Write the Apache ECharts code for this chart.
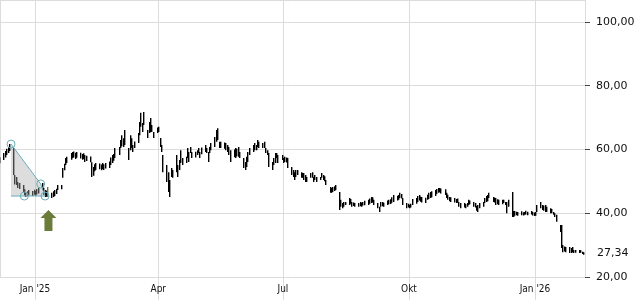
<!DOCTYPE html>
<html><head><meta charset="utf-8">
<script src="https://cdn.jsdelivr.net/npm/echarts@6/dist/echarts.min.js"></script>
<style>html,body{margin:0;padding:0;background:#fff}#c{width:640px;height:300px}</style>
</head><body><div id="c"></div>
<script>
// ---- data (trading days starting 2024-12-06, Mon-Fri) ----
const firstDay = '2024-12-06';
const lows = [
  55.7,
  56.7,57.5,58.3,58.9,59.5,  52.0,49.0,48.9,47.9,47.6,  46.7,45.6,45.1,45.4,45.6,  45.4,45.8,45.5,45.9,46.2,
  47.3,45.8,45.1,45.2,45.1,  44.8,45.1,45.4,46.0,47.3,  47.5,51.1,53.5,55.1,55.8,  56.8,57.3,57.5,57.0,57.4,
  57.2,56.8,57.0,56.1,56.4,  56.0,51.4,51.8,53.2,53.6,  53.8,53.5,53.9,53.6,54.0,  54.2,55.1,55.8,56.5,57.3,
  58.3,60.5,61.0,60.8,61.4,  56.7,59.8,60.5,59.2,60.5,  62.0,64.5,67.1,65.5,67.7,  63.6,65.2,65.5,65.5,63.6,
  65.2,65.5,60.8,59.2,52.9,  49.8,46.7,45.1,51.4,51.1,  52.9,51.4,53.6,55.8,55.1,  55.8,57.3,56.1,58.9,57.3,
  57.5,58.3,58.9,57.3,58.5,  59.2,58.9,56.1,58.9,59.8,  60.8,62.4,63.0,60.5,60.5,  60.2,59.8,59.2,58.3,56.1,
  57.6,57.3,57.8,57.7,57.3,  54.2,53.6,54.5,56.1,58.3,  59.2,59.8,59.8,60.8,60.5,  60.5,60.5,58.9,58.3,54.5,
  53.6,55.1,55.8,57.3,55.8,  56.7,55.8,56.1,55.9,54.2,  52.0,51.4,50.4,51.4,52.0,  51.1,51.1,50.4,49.8,49.8,
  51.1,51.1,49.8,50.4,49.8,  50.4,51.1,50.4,50.0,48.9,  46.4,46.4,46.7,47.0,47.3,  41.0,42.0,41.6,42.0,42.6,
  42.6,43.0,42.0,42.3,42.0,  42.0,42.2,42.0,42.4,42.5,  42.6,43.0,43.2,43.4,42.6,  41.6,40.4,42.0,42.2,42.0,
  42.6,42.8,42.9,43.3,43.5,  44.0,44.2,44.8,44.6,42.6,  41.6,41.8,41.6,41.8,42.6,  43.0,43.5,44.0,43.6,43.4,
  43.2,44.2,44.5,44.8,45.0,  45.4,46.0,46.4,46.6,46.2,  45.7,44.8,44.2,43.8,43.5,  43.4,43.2,43.3,42.0,41.6,
  41.8,41.6,42.0,42.6,42.8,  42.0,41.8,40.8,40.4,41.6,  42.0,43.2,43.5,43.8,44.8,  43.5,43.4,42.6,42.8,42.6,
  42.8,43.2,42.6,40.0,42.0,  38.8,38.8,39.2,39.4,39.2,  39.4,39.3,39.5,39.6,39.4,  39.6,39.3,39.1,39.2,40.4,
  41.6,41.0,40.8,40.4,40.4,  40.0,40.0,39.5,38.8,37.3,  34.1,29.1,27.8,28.0,27.8,  27.5,27.5,27.8,27.5,27.6,
  27.5,27.6,27.2,27.0
];
const highs = [
  57.6,
  58.9,59.5,60.2,60.8,61.7,  60.5,52.0,51.4,49.8,49.5,  48.9,47.5,46.7,46.9,47.3,  47.0,47.4,47.0,47.6,48.0,
  49.5,48.0,47.3,47.0,48.2,  46.4,46.9,47.3,47.7,48.9,  48.9,54.2,55.5,57.3,57.7,  58.9,59.2,59.4,59.0,59.2,
  59.0,58.6,58.8,58.3,58.0,  57.8,56.0,54.5,55.4,55.8,  55.6,55.3,55.8,55.4,55.8,  56.2,57.5,58.3,58.6,60.5,
  60.8,63.0,64.5,63.5,66.1,  60.5,64.5,63.5,61.4,62.5,  65.2,68.6,71.5,68.3,71.8,  66.1,68.6,69.9,67.7,65.5,
  66.9,67.1,63.6,61.4,58.3,  55.1,52.9,50.4,54.2,53.6,  58.3,55.1,56.7,59.8,57.3,  57.7,60.5,59.2,60.8,59.2,
  59.3,59.8,60.5,59.2,60.6,  61.4,60.5,59.2,60.8,62.0,  63.9,66.1,66.7,62.4,62.4,  62.2,62.0,61.4,60.8,59.8,
  60.0,60.5,60.2,60.8,59.2,  57.3,56.1,57.7,59.2,60.5,  61.4,62.0,61.4,63.0,62.4,  62.0,62.4,60.5,59.8,58.9,
  56.1,57.3,58.9,58.9,58.3,  58.3,57.3,57.7,57.5,57.3,  54.5,53.6,52.9,53.6,53.6,  52.9,52.6,52.6,52.0,51.4,
  52.6,52.9,51.4,52.0,51.4,  51.4,52.6,52.0,51.6,50.4,  48.2,47.9,48.2,48.5,48.9,  46.7,44.2,43.2,43.5,43.5,
  44.8,44.5,43.5,43.4,43.2,  43.2,43.5,43.3,43.5,43.9,  44.2,44.6,45.1,45.0,44.2,  43.2,42.0,43.5,43.5,43.3,
  44.0,44.2,44.4,45.0,45.7,  45.5,45.7,46.4,46.0,44.8,  43.2,43.0,42.6,43.0,44.5,  44.8,45.4,45.7,45.2,45.1,
  44.9,45.8,46.4,46.7,46.9,  47.3,47.6,47.9,47.9,47.8,  47.5,46.4,45.8,45.1,45.0,  44.8,44.5,44.6,43.5,43.2,
  43.2,42.9,43.2,44.2,44.0,  43.5,43.2,42.3,42.6,43.2,  43.5,44.8,45.4,45.7,46.4,  45.1,44.9,44.8,44.4,44.2,
  44.2,44.2,43.5,43.5,44.2,  46.7,40.7,40.7,40.5,40.4,  40.6,40.3,40.4,40.8,40.5,  40.7,40.4,40.2,40.4,42.6,
  43.5,42.6,42.4,42.6,42.0,  41.6,41.3,40.4,40.0,39.5,  36.3,36.3,30.0,29.6,29.4,  29.4,29.1,29.4,28.5,28.5,
  28.5,28.4,27.9,27.8
];
const signalDate = '2025-01-10';
const lastPrice = 27.34;
const yTickValues = [20, 40, 60, 80, 100];
const monthNames = ['Jan','Feb','Mär','Apr','Mai','Jun','Jul','Aug','Sep','Okt','Nov','Dez'];
// drawing tool annotation (top, middle, end) and the extra base marker
const drawDates = ['2024-12-14 12:00', '2025-01-05 04:00', '2025-01-08 08:00'];
const drawValues = [61.7, 49.2, 45.4];
const baseMarkDate = '2024-12-24 05:00';
// signal arrow
const arrowDate = '2025-01-10 20:00';
const arrowValue = 37.7;

// ---- build ----
function parseD(s) {
  const [dp, tp] = s.split(' ');
  const [y, m, d] = dp.split('-').map(Number);
  let h = 0, mi = 0;
  if (tp) { [h, mi] = tp.split(':').map(Number); }
  return new Date(y, m - 1, d, h, mi).getTime();
}
const dates = [];
{
  let d = new Date(parseD(firstDay));
  while (dates.length < lows.length) {
    const w = d.getDay();
    if (w !== 0 && w !== 6) dates.push(d.getTime());
    d = new Date(d.getFullYear(), d.getMonth(), d.getDate() + 1);
  }
}
const signalT = parseD(signalDate);
const barData = dates.map((t, i) => [t, lows[i], highs[i]]);

const FONT = 'DejaVu Sans';
const DAY = 86400000;
const xMin = new Date(2024, 11, 6, 11).getTime();
const xMax = new Date(2026, 1, 6, 12).getTime();

const chart = echarts.init(document.getElementById('c'), null, {renderer: 'canvas'});
chart.setOption({
  animation: false,
  backgroundColor: '#fff',
  grid: {left: 0, right: 55, top: 0, bottom: 23, containLabel: false, outerBoundsMode: 'none'},
  xAxis: {
    type: 'time', min: xMin, max: xMax,
    minInterval: 93 * DAY, maxInterval: 93 * DAY,
    axisLine: {show: false},
    axisTick: {show: true, length: 23, lineStyle: {color: '#dcdcdc'}},
    splitLine: {show: true, lineStyle: {color: '#dcdcdc', width: 1}},
    axisLabel: {
      margin: 7, fontSize: 10, color: '#111', fontFamily: 'DejaVu Sans Condensed, DejaVu Sans',
      formatter: function (v) {
        const d = new Date(v); const m = d.getMonth();
        return m === 0 ? monthNames[m] + " '" + String(d.getFullYear()).slice(2) : monthNames[m];
      }
    }
  },
  yAxis: {
    type: 'value', position: 'right', min: 20, max: 106.9, interval: 20,
    axisLine: {show: false},
    axisTick: {show: true, length: 5, lineStyle: {color: '#444'}},
    splitLine: {show: true, lineStyle: {color: '#dcdcdc', width: 1}},
    axisLabel: {
      margin: 11, fontSize: 11, color: '#111', fontFamily: FONT, showMaxLabel: false,
      formatter: v => yTickValues.includes(Math.round(v * 100) / 100) ? v.toFixed(2).replace('.', ',') : ''
    }
  },
  series: [
    {
      type: 'custom', name: 'ohlc', data: barData, encode: {x: 0, y: [1, 2]}, clip: true,
      renderItem: function (params, api) {
        const t = api.value(0);
        const lo = api.coord([t, api.value(1)]);
        const hi = api.coord([t, api.value(2)]);
        const x = Math.round(lo[0]);
        return {type: 'rect', shape: {x: x, y: hi[1], width: 1.4, height: Math.max(1, lo[1] - hi[1])},
          style: {fill: t === signalT ? '#6b7c3a' : '#000'}};
      }
    },
    {
      type: 'custom', name: 'drawing', data: [[drawDates[0], drawValues[0]]], silent: true, z: 5,
      renderItem: function (params, api) {
        const p = drawDates.map((d, i) => api.coord([parseD(d), drawValues[i]]));
        const base = api.coord([parseD(baseMarkDate), drawValues[2]]);
        const corner = [p[0][0], p[2][1]];
        const lc = '#6aaebb';
        const children = [
          {type: 'polygon', shape: {points: [p[0], p[1], p[2], corner]}, style: {fill: 'rgba(170,170,170,0.4)'}},
          {type: 'polyline', shape: {points: [p[0], p[1], p[2]]}, style: {stroke: lc, lineWidth: 1, fill: null}},
          {type: 'line', shape: {x1: corner[0], y1: corner[1], x2: p[2][0], y2: p[2][1]}, style: {stroke: lc, lineWidth: 1}}
        ];
        [p[0], p[1], p[2], base].forEach(c => children.push(
          {type: 'circle', shape: {cx: c[0], cy: c[1], r: 4}, style: {stroke: lc, lineWidth: 1, fill: null}}));
        return {type: 'group', children};
      }
    },
    {
      type: 'scatter', name: 'signal', silent: true, z: 6,
      data: [[parseD(arrowDate), arrowValue]],
      symbol: 'path://M8,0 L16,8 L12,8 L12,21 L4,21 L4,8 L0,8 Z',
      symbolSize: [16, 21], symbolKeepAspect: false,
      itemStyle: {color: '#6b7c3a', opacity: 1},
      markLine: {
        silent: true, symbol: 'none', animation: false,
        lineStyle: {color: 'rgba(0,0,0,0)', width: 0, type: 'solid'},
        label: {show: true, position: 'end', distance: 12, formatter: () => lastPrice.toFixed(2).replace('.', ','),
          color: '#111', fontSize: 11, fontFamily: FONT},
        data: [{yAxis: lastPrice}]
      }
    }
  ]
});
</script>
</body></html>
